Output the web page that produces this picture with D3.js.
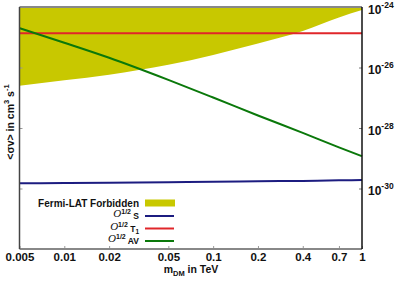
<!DOCTYPE html>
<html>
<head>
<meta charset="utf-8">
<script src="https://cdn.jsdelivr.net/npm/d3@7"></script>
<style>
  body { margin: 0; background: #fff; }
  svg { font-family: "Liberation Sans", Arial, sans-serif; font-weight: bold; }
</style>
</head>
<body>
<svg width="405" height="283"></svg>
<script>
// dark matter mass in TeV, tick positions on the x axis
var mass = [0.005, 0.01, 0.02, 0.05, 0.1, 0.2, 0.4, 0.7, 1];
var massLabels = ["0.005", "0.01", "0.02", "0.05", "0.1", "0.2", "0.4", "0.7", "1"];
// lower edge of the Fermi-LAT forbidden band
var fermiLow = [2.5e-27, 3.8e-27, 5.8e-27, 1.23e-26, 2.6e-26, 6.2e-26, 1.6e-25, 4.5e-25, 7.9e-25];
var sigmaS = [1.48e-30, 1.51e-30, 1.55e-30, 1.62e-30, 1.66e-30, 1.74e-30, 1.78e-30, 1.86e-30, 1.9e-30];
var sigmaT1 = [1.35e-25, 1.35e-25, 1.35e-25, 1.35e-25, 1.35e-25, 1.35e-25, 1.35e-25, 1.35e-25, 1.35e-25];
var sigmaAV = [2.0e-25, 6.6e-26, 2.1e-26, 3.9e-27, 1.02e-27, 2.6e-28, 6.9e-29, 2.3e-29, 1.17e-29];
var yTicks = [1e-24, 1e-26, 1e-28, 1e-30];
var yExp = ["-24", "-26", "-28", "-30"];

var margins = {top: 7, bottom: 34, left: 19.5, right: 43};
var W = 405, H = 283;
var width = W - margins.left - margins.right;
var height = H - margins.top - margins.bottom;

var svg = d3.select("svg");
var plot = svg.append("g")
  .attr("transform", "translate(" + margins.left + "," + margins.top + ")");

var xScale = d3.scaleLog().domain([0.005, 1]).range([0, width]);
var yScale = d3.scaleLog().domain([1e-32, 1e-24]).range([height, 0]);

var colors = {fermi: "#c8c800", s: "#1c1c80", t1: "#e0262a", av: "#0a780a"};

// forbidden band
var band = d3.area()
  .x(function(d, i) { return xScale(mass[i]); })
  .y0(yScale(1e-24))
  .y1(function(d) { return yScale(d); })
  .curve(d3.curveMonotoneX);
plot.append("path").datum(fermiLow)
  .attr("d", band)
  .attr("fill", colors.fermi);

var line = d3.line()
  .x(function(d, i) { return xScale(mass[i]); })
  .y(function(d) { return yScale(d); })
  .curve(d3.curveMonotoneX);

[[sigmaT1, colors.t1], [sigmaS, colors.s], [sigmaAV, colors.av]].forEach(function(s) {
  plot.append("path").datum(s[0])
    .attr("d", line)
    .attr("fill", "none")
    .attr("stroke", s[1])
    .attr("stroke-width", 2);
});

// x axis
var xAxis = d3.axisBottom(xScale)
  .tickValues(mass)
  .tickFormat(function(d, i) { return massLabels[i]; })
  .tickSizeInner(-3).tickSizeOuter(0).tickPadding(4);
var gx = plot.append("g")
  .attr("transform", "translate(0," + height + ")")
  .call(xAxis);
gx.select(".domain").remove();
gx.selectAll(".tick line").attr("stroke", "#999");
gx.selectAll(".tick text")
  .attr("font-size", 11.5).attr("font-family", "Liberation Sans").attr("font-weight", "bold")
  .attr("fill", "#111");

// left axis, ticks only
var yAxisL = d3.axisLeft(yScale).tickValues(yTicks).tickSizeInner(-3).tickSizeOuter(0).tickFormat("");
var gyl = plot.append("g").call(yAxisL);
gyl.select(".domain").remove();
gyl.selectAll(".tick line").attr("stroke", "#999");

// right axis with 10^n labels
var yAxisR = d3.axisRight(yScale).tickValues(yTicks).tickSizeInner(-3).tickSizeOuter(0).tickFormat("");
var gyr = plot.append("g").attr("transform", "translate(" + width + ",0)").call(yAxisR);
gyr.select(".domain").remove();
gyr.selectAll(".tick line").attr("stroke", "#777");
gyr.selectAll(".tick").each(function(d, i) {
  var t = d3.select(this).append("text")
    .attr("x", 6).attr("y", 6)
    .attr("fill", "#111")
    .attr("font-size", 12)
    .attr("text-anchor", "start");
  t.append("tspan").text("10");
  t.append("tspan").attr("dy", -6).attr("font-size", 8.5).text(yExp[i]);
});

// frame
plot.append("line").attr("x1", 0).attr("x2", width).attr("y1", 0).attr("y2", 0)
  .attr("stroke", "#888").attr("stroke-width", 2);
plot.append("line").attr("x1", 0).attr("x2", width).attr("y1", height).attr("y2", height)
  .attr("stroke", "#888").attr("stroke-width", 2);
plot.append("line").attr("x1", 0).attr("x2", 0).attr("y1", 0).attr("y2", height)
  .attr("stroke", "#444").attr("stroke-width", 1.5);
plot.append("line").attr("x1", width).attr("x2", width).attr("y1", 0).attr("y2", height)
  .attr("stroke", "#111").attr("stroke-width", 1.5);

// axis titles
var xt = svg.append("text")
  .attr("x", 191).attr("y", 273)
  .attr("text-anchor", "middle").attr("font-size", 10.5).attr("fill", "#111");
xt.append("tspan").text("m");
xt.append("tspan").attr("dy", 3).attr("font-size", 7.5).text("DM");
xt.append("tspan").attr("dy", -3).text(" in TeV");

var yt = svg.append("text")
  .attr("transform", "translate(13.5,122) rotate(-90)")
  .attr("text-anchor", "middle").attr("font-size", 10.5).attr("fill", "#111");
yt.append("tspan").text("<σv> in cm");
yt.append("tspan").attr("dy", -5).attr("font-size", 7.5).text("3");
yt.append("tspan").attr("dy", 5).text(" s");
yt.append("tspan").attr("dy", -5).attr("font-size", 7.5).text("-1");

// legend
var legend = svg.append("g");
var rowY = [203, 216, 228.5, 241];
legend.append("text")
  .attr("x", 139).attr("y", rowY[0] + 3.5)
  .attr("text-anchor", "end").attr("font-size", 10).attr("fill", "#111")
  .text("Fermi-LAT Forbidden");
legend.append("rect")
  .attr("x", 145).attr("y", rowY[0] - 3.5).attr("width", 30).attr("height", 7)
  .attr("fill", colors.fermi);

var subs = [["S"], ["T", "1"], ["AV"]];
var subColors = [colors.s, colors.t1, colors.av];
subs.forEach(function(s, i) {
  var y = rowY[i + 1];
  var t = legend.append("text")
    .attr("x", 139).attr("y", y + 3)
    .attr("text-anchor", "end").attr("font-size", 8.5).attr("fill", "#111");
  t.append("tspan").attr("dy", -2)
    .attr("font-family", "Liberation Serif").attr("font-style", "italic").attr("font-weight", "normal")
    .attr("font-size", 11).text("O");
  t.append("tspan").attr("dy", -3).attr("font-size", 7).text("1/2");
  t.append("tspan").attr("dy", 5).text(" " + s[0]);
  if (s[1]) t.append("tspan").attr("dy", 2).attr("font-size", 6.5).text(s[1]);
  legend.append("line")
    .attr("x1", 145).attr("x2", 174).attr("y1", y).attr("y2", y)
    .attr("stroke", subColors[i]).attr("stroke-width", 2);
});
</script>
</body>
</html>
